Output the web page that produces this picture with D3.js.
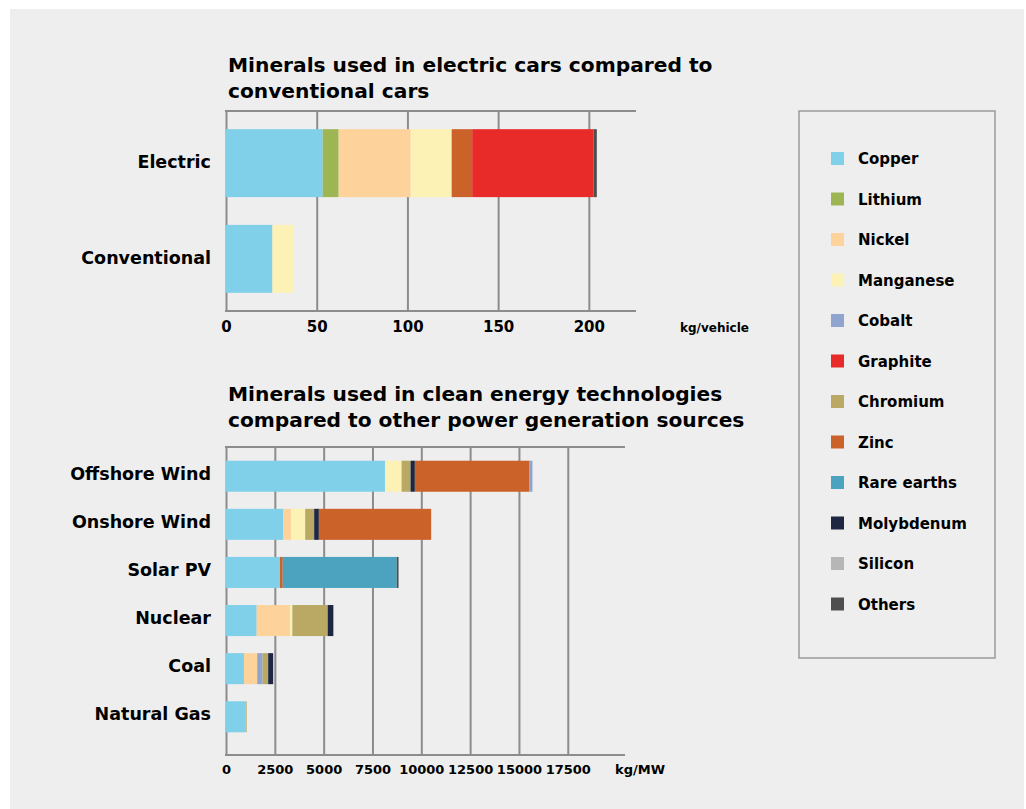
<!DOCTYPE html>
<html>
<head>
<meta charset="utf-8">
<script src="https://cdn.jsdelivr.net/npm/d3@7"></script>
<style>
  html, body { margin: 0; padding: 0; background: #fff; }
  svg { display: block; }
  text { font-family: "DejaVu Sans", sans-serif; font-weight: bold; fill: #000; }
</style>
</head>
<body>
<div id="chart"></div>
<script>
const minerals = ['Copper', 'Lithium', 'Nickel', 'Manganese', 'Cobalt', 'Graphite',
  'Chromium', 'Zinc', 'Rare earths', 'Molybdenum', 'Silicon', 'Others'];
const mineralColors = ['#80d0ea', '#9db553', '#fdd29b', '#fdf2b5', '#8fa4cf', '#e82a29',
  '#baa964', '#cb6229', '#4ba3c0', '#1d2742', '#b6b6b6', '#4e4e4e'];

const carCategories = ['Electric', 'Conventional'];
const carSegments = [
  [['Copper', 53.3], ['Lithium', 8.8], ['Nickel', 39.7], ['Manganese', 22.6],
    ['Zinc', 11.3], ['Graphite', 66.9], ['Others', 1.8]],
  [['Copper', 25.6], ['Manganese', 11.9]]
];
const carTicks = [0, 50, 100, 150, 200];

const powerCategories = ['Offshore Wind', 'Onshore Wind', 'Solar PV', 'Nuclear', 'Coal', 'Natural Gas'];
const powerSegments = [
  [['Copper', 8140], ['Manganese', 850], ['Chromium', 460], ['Molybdenum', 220],
    ['Zinc', 5850], ['Cobalt', 170]],
  [['Copper', 2935], ['Nickel', 390], ['Manganese', 730], ['Chromium', 460],
    ['Molybdenum', 240], ['Zinc', 5750]],
  [['Copper', 2765], ['Zinc', 140], ['Rare earths', 5840], ['Others', 90]],
  [['Copper', 1570], ['Nickel', 1707], ['Manganese', 120], ['Chromium', 1810],
    ['Molybdenum', 290]],
  [['Copper', 920], ['Nickel', 680], ['Cobalt', 270], ['Chromium', 290], ['Molybdenum', 255]],
  [['Copper', 1007], ['Chromium', 50]]
];
const powerTicks = [0, 2500, 5000, 7500, 10000, 12500, 15000, 17500];

const W = 1026, H = 809;
const gridColor = '#8c8c8c';

const color = d3.scaleOrdinal().domain(minerals).range(mineralColors);

const svg = d3.select('#chart').append('svg')
  .attr('width', W)
  .attr('height', H);

// grey panel
svg.append('rect')
  .attr('x', 10).attr('y', 9)
  .attr('width', 1014).attr('height', 800)
  .attr('fill', '#eeeeee');

// turn the [name, value] lists into stacked pieces
function stackRows(categories, segments) {
  let rows = [];
  categories.forEach(function(cat, i) {
    let x0 = 0;
    segments[i].forEach(function(s) {
      rows.push({cat: cat, mineral: s[0], x0: x0, x1: x0 + s[1]});
      x0 += s[1];
    });
  });
  return rows;
}

function drawPanel(opt) {
  const x = d3.scaleLinear().domain(opt.domain).range([opt.left, opt.right]);
  const y = d3.scaleBand().domain(opt.categories)
    .range([opt.top, opt.bandBottom])
    .paddingInner(opt.padInner)
    .paddingOuter(opt.padOuter);

  const g = svg.append('g');

  // title
  g.append('text')
    .selectAll('tspan')
    .data(opt.title)
    .enter()
    .append('tspan')
    .attr('x', 228)
    .attr('y', function(d, i) { return opt.titleY + i * 25.5; })
    .attr('font-size', 20.2)
    .text(function(d) { return d; });

  // vertical grid via axis
  const grid = d3.axisBottom(x)
    .tickValues(opt.ticks)
    .tickSize(-(opt.bottom - opt.top))
    .tickFormat('');
  const gridG = g.append('g')
    .attr('transform', 'translate(0,' + opt.bottom + ')')
    .call(grid);
  gridG.select('.domain').remove();
  gridG.selectAll('.tick line')
    .attr('stroke', gridColor)
    .attr('stroke-width', 2);

  // top and bottom lines
  [opt.top, opt.bottom].forEach(function(yy) {
    g.append('line')
      .attr('x1', opt.left - 1).attr('x2', opt.right)
      .attr('y1', yy).attr('y2', yy)
      .attr('stroke', gridColor)
      .attr('stroke-width', 2);
  });

  // bars
  g.append('g')
    .selectAll('rect')
    .data(stackRows(opt.categories, opt.segments))
    .enter()
    .append('rect')
    .attr('x', function(d) { return x(d.x0); })
    .attr('y', function(d) { return y(d.cat); })
    .attr('width', function(d) { return x(d.x1) - x(d.x0); })
    .attr('height', y.bandwidth())
    .attr('fill', function(d) { return color(d.mineral); });

  // category labels
  g.append('g')
    .selectAll('text')
    .data(opt.categories)
    .enter()
    .append('text')
    .attr('x', 211)
    .attr('y', function(d) { return y(d) + y.bandwidth() / 2 + opt.labelShift; })
    .attr('dy', '0.36em')
    .attr('text-anchor', 'end')
    .attr('font-size', 17.5)
    .text(function(d) { return d; });

  // tick labels
  const axis = d3.axisBottom(x)
    .tickValues(opt.ticks)
    .tickSize(0)
    .tickPadding(0)
    .tickFormat(d3.format('d'));
  const axisG = g.append('g')
    .attr('transform', 'translate(0,' + opt.labelY + ')')
    .call(axis);
  axisG.select('.domain').remove();
  axisG.selectAll('text')
    .attr('y', 0)
    .attr('dy', 0)
    .attr('fill', '#000')
    .style('font-family', '"DejaVu Sans", sans-serif')
    .style('font-weight', 'bold')
    .style('font-size', opt.tickSize + 'px');

  g.append('text')
    .attr('x', opt.unitX)
    .attr('y', opt.labelY)
    .attr('font-size', opt.unitSize)
    .text(opt.unit);
}

drawPanel({
  title: ['Minerals used in electric cars compared to', 'conventional cars'],
  titleY: 72,
  categories: carCategories,
  segments: carSegments,
  ticks: carTicks,
  domain: [0, 226],
  left: 226, right: 636,
  top: 111, bottom: 311, bandBottom: 311,
  padInner: 0.29, padOuter: 0.19,
  labelShift: -1,
  labelY: 332, tickSize: 15,
  unit: 'kg/vehicle', unitX: 680, unitSize: 12
});

drawPanel({
  title: ['Minerals used in clean energy technologies', 'compared to other power generation sources'],
  titleY: 401,
  categories: powerCategories,
  segments: powerSegments,
  ticks: powerTicks,
  domain: [0, 20430],
  left: 226, right: 625,
  top: 447, bottom: 755, bandBottom: 746,
  padInner: 0.355, padOuter: 0.285,
  labelShift: -3,
  labelY: 774, tickSize: 13,
  unit: 'kg/MW', unitX: 615, unitSize: 13
});

// legend
const legend = svg.append('g');
legend.append('rect')
  .attr('x', 799).attr('y', 111)
  .attr('width', 196).attr('height', 547)
  .attr('fill', 'none')
  .attr('stroke', '#9a9a9a')
  .attr('stroke-width', 1.5);

const items = legend.selectAll('g.item')
  .data(minerals)
  .enter()
  .append('g')
  .attr('class', 'item')
  .attr('transform', function(d, i) { return 'translate(831,' + (159 + i * 40.5) + ')'; });

items.append('rect')
  .attr('x', 0).attr('y', -7)
  .attr('width', 13).attr('height', 13)
  .attr('fill', function(d) { return color(d); });

items.append('text')
  .attr('x', 27)
  .attr('dy', '0.36em')
  .attr('font-size', 15)
  .text(function(d) { return d; });
</script>
</body>
</html>
